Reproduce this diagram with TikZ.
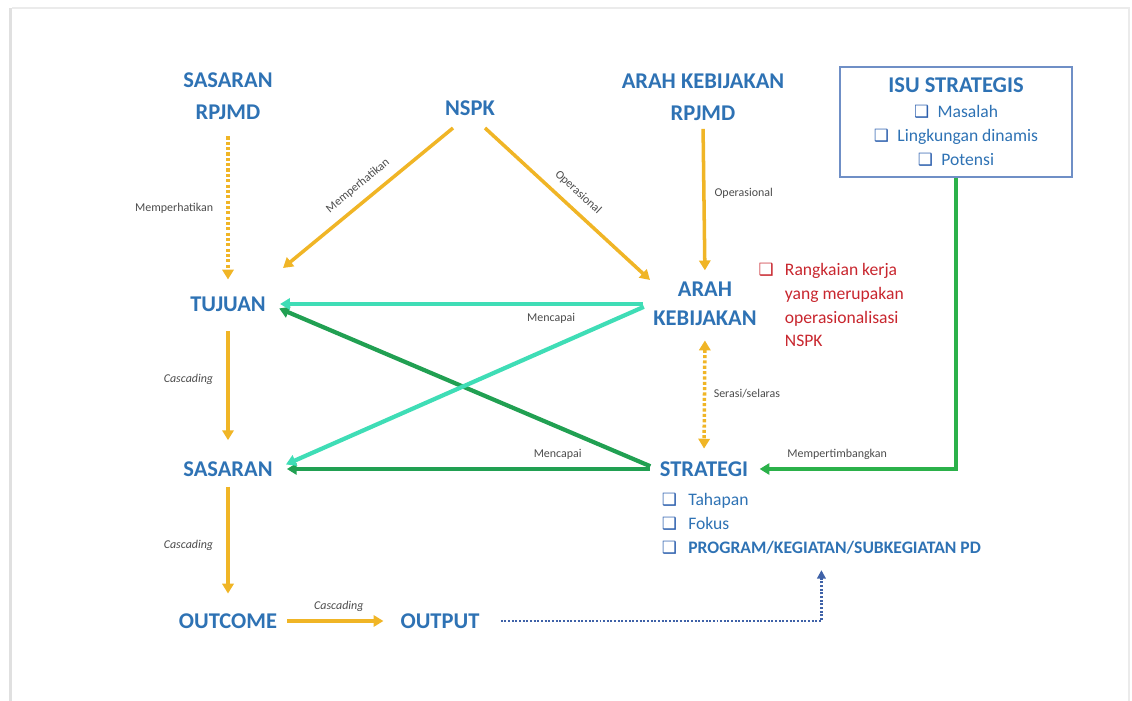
\documentclass[tikz,border=0pt]{standalone}
\usepackage{fontspec}
\setmainfont{Carlito}
\newfontfamily\symfont{DejaVu Sans}
\usetikzlibrary{arrows.meta,calc}

\definecolor{cblue}{HTML}{2E72B4}
\definecolor{cyellow}{HTML}{F0B526}
\definecolor{cteal}{HTML}{3FDDB6}
\definecolor{cgreen}{HTML}{21A052}
\definecolor{cgreenb}{HTML}{2BB14A}
\definecolor{cred}{HTML}{C8262E}
\definecolor{cdblue}{HTML}{3F62A8}
\definecolor{cboxline}{HTML}{6F8FC6}
\definecolor{cchk}{HTML}{2C5FAD}

\newcommand{\chk}[1][cchk]{{\color{#1}\symfont\fontsize{12}{12}\selectfont ❑}}

\tikzset{
  main/.style={font=\bfseries\fontsize{16}{22.5}\selectfont, text=cblue, align=center, inner sep=2pt},
  lbl/.style={font=\fontsize{8.5}{10}\selectfont, text=black!70},
  clbl/.style={font=\itshape\fontsize{8.5}{10}\selectfont, text=black!70},
  tip/.style={-{Triangle[length=7pt,width=8pt]}},
  yarr/.style={draw=cyellow, line width=2.5pt, tip},
  ydot/.style={yarr, dash pattern=on 2.2pt off 1.6pt},
  yboth/.style={ydot, {Triangle[length=7pt,width=8pt]}-{Triangle[length=7pt,width=8pt]}},
  tarr/.style={draw=cteal, line width=3pt, tip},
  garr/.style={draw=cgreen, line width=3pt, tip},
  iarr/.style={draw=cgreenb, line width=2.4pt, tip},
  bdot/.style={draw=cdblue, line width=2pt, dash pattern=on 1.4pt off 1.2pt, -{Triangle[length=6pt,width=6pt]}},
  isubox/.style={draw=cboxline, line width=1.2pt, minimum width=165pt, minimum height=78pt,
    align=center, font=\fontsize{12.5}{17}\selectfont, text=cblue},
  list/.style={anchor=north west, align=left, font=\fontsize{12.5}{17}\selectfont}
}

\begin{document}
\begin{tikzpicture}[x=0.025cm, y=-0.025cm]
\useasboundingbox (0,0) rectangle (1132,701);
\fill[black!12] (9,8) rectangle (12,701);
\draw[black!8, line width=1pt] (12,8) -- (1129,8) -- (1129,701);

% nodes
\node[main] (sr) at (228,96) {SASARAN\\RPJMD};
\node[main] (nspk) at (470,108) {NSPK};
\node[main] (akr) at (703,97) {ARAH KEBIJAKAN\\RPJMD};
\node[isubox] (isu) at (956,122) {{\bfseries\fontsize{16}{19}\selectfont ISU STRATEGIS}\\[1pt]
  \chk\hspace{6pt}Masalah\\
  \chk\hspace{6pt}Lingkungan dinamis\\
  \chk\hspace{6pt}Potensi};
\node[main] (tuj) at (228,304) {TUJUAN};
\node[main, font=\bfseries\fontsize{16}{21}\selectfont] (arah) at (705,304) {ARAH\\KEBIJAKAN};
\node[list, text=cred] (rk) at (780,258) {\llap{\chk[cred]\hspace{8pt}}Rangkaian kerja\\yang merupakan\\operasionalisasi\\NSPK};
\node[main] (sas) at (228,469) {SASARAN};
\node[main] (strat) at (704,469) {STRATEGI};
\node[list, text=cblue] (slist) at (657,488) {\chk\hspace{8pt}Tahapan\\
  \chk\hspace{8pt}Fokus\\
  \chk\hspace{8pt}\textbf{PROGRAM/KEGIATAN/SUBKEGIATAN PD}};
\node[main] (outc) at (228,621) {OUTCOME};
\node[main] (outp) at (440,621) {OUTPUT};

% arrows
\draw[ydot, shorten <=10pt, shorten >=10pt] (sr.south) -- node[lbl, left=6pt] {Memperhatikan} (tuj.north);
\draw[yarr] ($(nspk)+(-17,20)$) -- node[lbl, sloped, above=3pt] {Memperhatikan} ($(tuj)+(55,-36)$);
\draw[yarr] ($(nspk)+(15,20)$) -- node[lbl, sloped, above=3pt] {Operasional} ($(arah)+(-55,-24)$);
\draw[yarr, shorten <=4pt, shorten >=6pt] (akr.south) -- node[lbl, right=3pt, pos=.45] {Operasional} (arah.north);

\draw[garr, shorten <=5pt, shorten >=8pt] (strat.west) -- (tuj.east);
\draw[garr, shorten <=5pt, shorten >=8pt] (strat.west) -- node[lbl, above=2pt, pos=.26] {Mencapai} (sas.east);
\draw[tarr, shorten <=5pt, shorten >=8pt] (arah.west) -- node[lbl, below=2pt, pos=.26] {Mencapai} (tuj.east);
\draw[tarr, shorten <=5pt, shorten >=8pt] (arah.west) -- (sas.east);

\draw[yboth, shorten <=8pt, shorten >=7pt] (arah.south) -- node[lbl, right=2pt] {Serasi/selaras} (strat.north);
\draw[iarr, shorten >=6pt] (isu.south) |- node[lbl, above=2pt, pos=.79] {Mempertimbangkan} (strat.east);

\draw[yarr, shorten <=12pt, shorten >=13pt] (tuj.south) -- node[clbl, left=6pt, pos=.45] {Cascading} (sas.north);
\draw[yarr, shorten <=5pt, shorten >=12pt] (sas.south) -- node[clbl, left=6pt] {Cascading} (outc.north);
\draw[yarr, shorten <=5pt, shorten >=10pt] (outc.east) -- node[clbl, above=2pt] {Cascading} (outp.west);
\draw[bdot, shorten <=13pt, shorten >=8pt] (outp.east) -| (slist.south);
\end{tikzpicture}
\end{document}
